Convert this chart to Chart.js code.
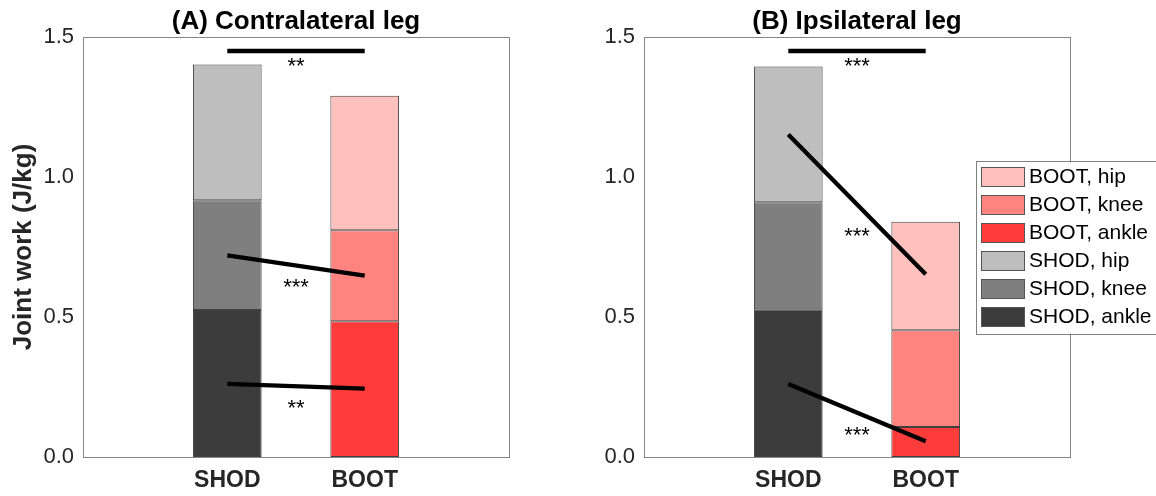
<!DOCTYPE html>
<html><head><meta charset="utf-8">
<script src="https://cdn.jsdelivr.net/npm/chart.js@4.4.1/dist/chart.umd.min.js"></script>
<style>
html,body{margin:0;padding:0;background:#fff;}
#wrap{position:relative;width:1156px;height:496px;overflow:hidden;background:#fff;}
canvas{position:absolute;top:0;}
</style></head><body>
<div id="wrap">
<canvas id="cA" width="560" height="496" style="left:0;width:560px;height:496px"></canvas>
<canvas id="cB" width="596" height="496" style="left:560px;width:596px;height:496px"></canvas>
</div>
<script>
// ---------------- data ----------------
const categories = ['SHOD', 'BOOT'];
const joints = ['ankle', 'knee', 'hip'];
const yTicks = [0, 0.5, 1.0, 1.5];

// Panel A: contralateral leg (stacked segments: ankle, knee, hip)
const contraShod = [0.525, 0.392, 0.485];
const contraBoot = [0.485, 0.325, 0.480];
const contraKneeLine = [0.720, 0.648];
const contraAnkleLine = [0.261, 0.244];
const contraSigBar = [1.45, 1.45];
const contraStars = ['**', '***', '**'];
const contraStarY = [1.411, 0.623, 0.189];

// Panel B: ipsilateral leg
const ipsiShod = [0.528, 0.382, 0.485];
const ipsiBoot = [0.107, 0.346, 0.387];
const ipsiHipLine = [1.152, 0.653];
const ipsiAnkleLine = [0.261, 0.056];
const ipsiSigBar = [1.45, 1.45];
const ipsiStars = ['***', '***', '***'];
const ipsiStarY = [1.411, 0.805, 0.094];

const starX = 1.5;

// ---------------- styles ----------------
const shodColors = ['#3c3c3c', '#7f7f7f', '#bebebe'];
const bootColors = ['#ff3c3c', '#ff8480', '#ffc1bd'];
const FONT = "'Liberation Sans', Arial, Helvetica, sans-serif";
Chart.defaults.font.family = FONT;

const framePlugin = {
  id: 'frame',
  afterDraw(chart) {
    const a = chart.chartArea, ctx = chart.ctx;
    ctx.save();
    ctx.strokeStyle = '#858585';
    ctx.lineWidth = 1;
    ctx.strokeRect(Math.round(a.left) + 0.5, Math.round(a.top) + 0.5,
                   Math.round(a.right - a.left), Math.round(a.bottom - a.top));
    ctx.restore();
  }
};

const starsPlugin = {
  id: 'stars',
  afterDatasetsDraw(chart, args, opts) {
    const ctx = chart.ctx, xs = chart.scales.x, ys = chart.scales.y;
    ctx.save();
    ctx.font = '22px ' + FONT;
    ctx.fillStyle = '#000';
    ctx.textAlign = 'center';
    ctx.textBaseline = 'alphabetic';
    opts.texts.forEach((t, i) => {
      const m = ctx.measureText(t);
      const px = xs.getPixelForValue(starX);
      const py = ys.getPixelForValue(opts.ys[i]);
      ctx.fillText(t, px, py - (m.actualBoundingBoxDescent - m.actualBoundingBoxAscent) / 2);
    });
    ctx.restore();
  }
};

const legendPlugin = {
  id: 'boxLegend',
  afterDraw(chart, args, opts) {
    if (!opts.show) return;
    const ctx = chart.ctx;
    const items = chart.data.datasets.filter(d => d.type === 'bar').slice().reverse();
    ctx.save();
    ctx.fillStyle = '#fff';
    ctx.fillRect(opts.x, opts.y, opts.w, opts.h);
    ctx.strokeStyle = '#808080';
    ctx.lineWidth = 1;
    ctx.strokeRect(opts.x + 0.5, opts.y + 0.5, opts.w, opts.h);
    ctx.font = '21px ' + FONT;
    ctx.textBaseline = 'middle';
    ctx.textAlign = 'left';
    items.forEach((d, i) => {
      const top = opts.y + 6 + i * opts.pitch;
      ctx.fillStyle = d.backgroundColor;
      ctx.fillRect(opts.x + 5, top, 44, 20);
      ctx.strokeStyle = '#555';
      ctx.strokeRect(opts.x + 5.5, top + 0.5, 43, 19);
      ctx.fillStyle = '#000';
      ctx.fillText(d.label, opts.x + 53, top + 10.5);
    });
    ctx.restore();
  }
};

function lineDs(vals) {
  return {
    type: 'line',
    data: [{x: 1, y: vals[0]}, {x: 2, y: vals[1]}],
    borderColor: '#000', borderWidth: 4.3, pointRadius: 0,
    borderCapStyle: 'butt', fill: false, yAxisID: 'yl', order: 0
  };
}

function makeChart(id, title, shod, boot, lines, stars, starY, cfg) {
  const datasets = [];
  joints.forEach((j, k) => datasets.push({
    type: 'bar', label: categories[0] + ', ' + j,
    data: [{x: 1, y: shod[k]}],
    backgroundColor: shodColors[k], borderColor: '#404040', borderWidth: 1,
    borderSkipped: false, yAxisID: 'y', order: 1
  }));
  joints.forEach((j, k) => datasets.push({
    type: 'bar', label: categories[1] + ', ' + j,
    data: [{x: 2, y: boot[k]}],
    backgroundColor: bootColors[k], borderColor: '#404040', borderWidth: 1,
    borderSkipped: false, yAxisID: 'y', order: 1
  }));
  lines.forEach(l => datasets.push(lineDs(l)));

  return new Chart(document.getElementById(id), {
    data: {datasets},
    options: {
      responsive: false, animation: false, devicePixelRatio: 1, events: [],
      barPercentage: 0.5, categoryPercentage: 1.0,
      layout: {padding: {left: 0, right: cfg.rightPad, top: 0, bottom: 0}},
      scales: {
        x: {
          type: 'linear', min: -0.05, max: 3.05, stacked: true, offset: false,
          grid: {display: false, drawTicks: false}, border: {display: false},
          afterBuildTicks: s => { s.ticks = [{value: 1}, {value: 2}]; },
          ticks: {
            callback: v => categories[v - 1],
            font: {size: 23, weight: 'bold'}, color: '#262626',
            padding: 10, autoSkip: false, maxRotation: 0
          },
          afterFit: s => { s.height = 39; }
        },
        y: {
          type: 'linear', min: 0, max: 1.5, stacked: true,
          grid: {display: false, drawTicks: false}, border: {display: false},
          afterBuildTicks: s => { s.ticks = yTicks.map(v => ({value: v})); },
          ticks: {callback: v => v.toFixed(1), font: {size: 22}, color: '#262626', padding: 9},
          title: {
            display: cfg.yTitle, text: 'Joint work (J/kg)',
            font: {size: 26, weight: 'bold'}, color: '#262626',
            padding: {top: 8, bottom: 0}
          },
          afterFit: s => { s.width = cfg.yWidth; }
        },
        yl: {type: 'linear', display: false, min: 0, max: 1.5, stacked: false}
      },
      plugins: {
        legend: {display: false},
        tooltip: {enabled: false},
        title: {
          display: true, text: title, fullSize: false, color: '#000',
          font: {size: 26, weight: 'bold', lineHeight: 1.1},
          padding: {top: 8, bottom: 0.4}
        },
        stars: {texts: stars, ys: starY},
        boxLegend: cfg.legend
      }
    },
    plugins: [framePlugin, starsPlugin, legendPlugin]
  });
}

makeChart('cA', '(A) Contralateral leg', contraShod, contraBoot,
  [contraSigBar, contraKneeLine, contraAnkleLine], contraStars, contraStarY,
  {yTitle: true, yWidth: 83, rightPad: 51, legend: {show: false}});

makeChart('cB', '(B) Ipsilateral leg', ipsiShod, ipsiBoot,
  [ipsiSigBar, ipsiHipLine, ipsiAnkleLine], ipsiStars, ipsiStarY,
  {yTitle: false, yWidth: 84, rightPad: 86,
   legend: {show: true, x: 416, y: 161, w: 240, h: 173, pitch: 28}});
</script>
</body></html>
